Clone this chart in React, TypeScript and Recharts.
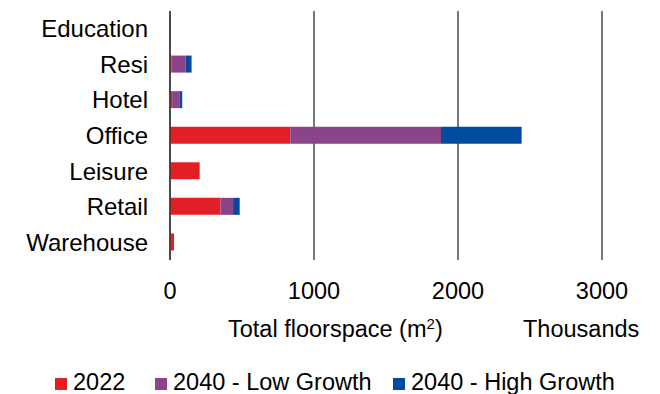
import React from 'react';
import { BarChart, Bar, XAxis, YAxis, CartesianGrid } from 'recharts';

const categories = ['Education', 'Resi', 'Hotel', 'Office', 'Leisure', 'Retail', 'Warehouse'];
const values2022 = [2, 12, 15, 835, 206, 350, 28];
const valuesLow = [0, 98, 50, 1047, 0, 88, 0];
const valuesHigh = [0, 40, 20, 560, 0, 46, 0];
const xTicks = [0, 1000, 2000, 3000];
const seriesNames = ['2022', '2040 - Low Growth', '2040 - High Growth'];
const colors = ['#E31F26', '#8C4489', '#004B9F'];

const data = categories.map((name, i) => ({
  name,
  a: values2022[i],
  b: valuesLow[i],
  c: valuesHigh[i],
}));

const FONT = '"Liberation Sans", Arial, sans-serif';
const FS = 23.5;

export default function App() {
  return (
    <div style={{ position: 'absolute', left: 0, top: 0, width: 660, height: 394, fontFamily: FONT, background: '#fff' }}>
      <BarChart
        width={660}
        height={394}
        data={data}
        layout="vertical"
        margin={{ top: 11, right: 58, left: 0, bottom: 104 }}
        barSize={17}
      >
        <CartesianGrid vertical horizontal={false} stroke="#767676" strokeWidth={2} />
        <XAxis
          type="number"
          domain={[0, 3000]}
          ticks={xTicks}
          axisLine={false}
          tickLine={false}
          tickSize={0}
          tickMargin={22}
          height={30}
          interval={0}
          tick={{ fontSize: FS, fill: '#000', fontFamily: FONT }}
        />
        <YAxis
          type="category"
          dataKey="name"
          width={170}
          axisLine={{ stroke: '#333', strokeWidth: 1.3 }}
          tickLine={false}
          tickSize={0}
          tickMargin={22}
          interval={0}
          tick={{ fontSize: 24, fill: '#000', fontFamily: FONT }}
        />
        <Bar dataKey="a" stackId="s" fill={colors[0]} isAnimationActive={false} />
        <Bar dataKey="b" stackId="s" fill={colors[1]} isAnimationActive={false} />
        <Bar dataKey="c" stackId="s" fill={colors[2]} isAnimationActive={false} />
      </BarChart>
      <div style={{ position: 'absolute', left: 228, top: 318, fontSize: FS, lineHeight: 1, whiteSpace: 'nowrap', color: '#000' }}>
        Total floorspace (m<sup style={{ fontSize: 15, lineHeight: 0, verticalAlign: '0.55em' }}>2</sup>)
      </div>
      <div style={{ position: 'absolute', left: 523, top: 318, fontSize: FS, lineHeight: 1, whiteSpace: 'nowrap', color: '#000' }}>
        Thousands
      </div>
      {seriesNames.map((n, i) => {
        const lefts = [55, 155, 393];
        return (
          <div key={n} style={{ position: 'absolute', left: lefts[i], top: 371, display: 'flex', alignItems: 'center', whiteSpace: 'nowrap', fontSize: FS, lineHeight: 1, color: '#000' }}>
            <span style={{ display: 'inline-block', width: 12, height: 12, background: colors[i], marginRight: 6, marginTop: 3 }} />
            <span>{n}</span>
          </div>
        );
      })}
    </div>
  );
}
